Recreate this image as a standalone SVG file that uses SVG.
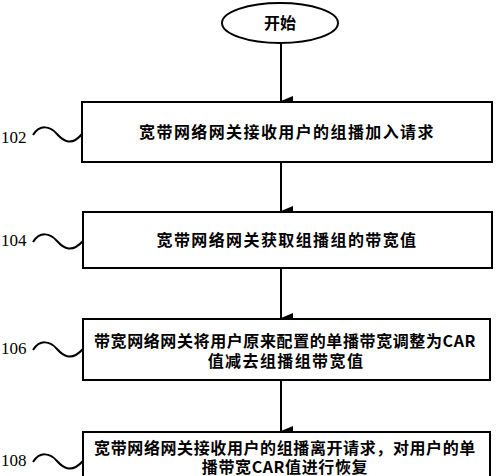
<svg xmlns="http://www.w3.org/2000/svg" width="500" height="476" viewBox="0 0 500 476">
<style>
.box{fill:#fff;stroke:#000;stroke-width:2}
.t{font-family:"Noto Sans CJK SC","Noto Sans CJK JP",sans-serif;font-weight:bold;font-size:16px;fill:#000;text-anchor:middle}
.lbl{font-family:"Liberation Serif",serif;font-size:17px;fill:#000}
.wave{fill:none;stroke:#000;stroke-width:2}
.ln{stroke:#000;stroke-width:2;fill:none}
</style>
<defs>
<marker id="ah" markerWidth="10" markerHeight="12" refX="5" refY="12" orient="auto-start-reverse" markerUnits="userSpaceOnUse" viewBox="0 0 10 12">
<path d="M0,0 L10,0 L5,12 Z" fill="#000"/>
</marker>
</defs>
<g id="connectors">
<line class="ln" x1="281" y1="44" x2="281" y2="101" marker-end="url(#ah)"/>
<line class="ln" x1="281" y1="162" x2="281" y2="211" marker-end="url(#ah)"/>
<line class="ln" x1="281" y1="268" x2="281" y2="318" marker-end="url(#ah)"/>
<line class="ln" x1="281" y1="380" x2="281" y2="431" marker-end="url(#ah)"/>
</g>
<g id="start">
<ellipse cx="280" cy="23" rx="58" ry="20" fill="#fff" stroke="#000" stroke-width="2"/>
<text class="t" x="280" y="29">开始</text>
</g>
<g id="n102">
<rect class="box" x="82" y="102" width="410" height="60"/>
<text class="t" x="287" y="138" letter-spacing="1.4">宽带网络网关接收用户的组播加入请求</text>
<text class="lbl" x="1" y="143">102</text>
<path class="wave" d="M33,135 C40,124 50,126 57,134 S72,146 82,134"/>
</g>
<g id="n104">
<rect class="box" x="83" y="212" width="409" height="56"/>
<text class="t" x="287" y="246" letter-spacing="1.4">宽带网络网关获取组播组的带宽值</text>
<text class="lbl" x="1" y="246">104</text>
<path class="wave" d="M33,242 C40,231 50,233 57,241 S72,253 83,241"/>
</g>
<g id="n106">
<rect class="box" x="83" y="319" width="407" height="61"/>
<text class="t" x="285" y="347" letter-spacing="0.6">带宽网络网关将用户原来配置的单播带宽调整为CAR</text>
<text class="t" x="286" y="367" letter-spacing="1.4">值减去组播组带宽值</text>
<text class="lbl" x="1" y="354">106</text>
<path class="wave" d="M33,350 C40,339 50,341 57,349 S72,361 83,349"/>
</g>
<g id="n108">
<rect class="box" x="83" y="432" width="407" height="60"/>
<text class="t" x="285" y="454" letter-spacing="0.6">宽带网络网关接收用户的组播离开请求，对用户的单</text>
<text class="t" x="285" y="473" letter-spacing="0.6">播带宽CAR值进行恢复</text>
<text class="lbl" x="1" y="466">108</text>
<path class="wave" d="M33,462 C40,451 50,453 57,461 S72,473 83,461"/>
</g>
</svg>
